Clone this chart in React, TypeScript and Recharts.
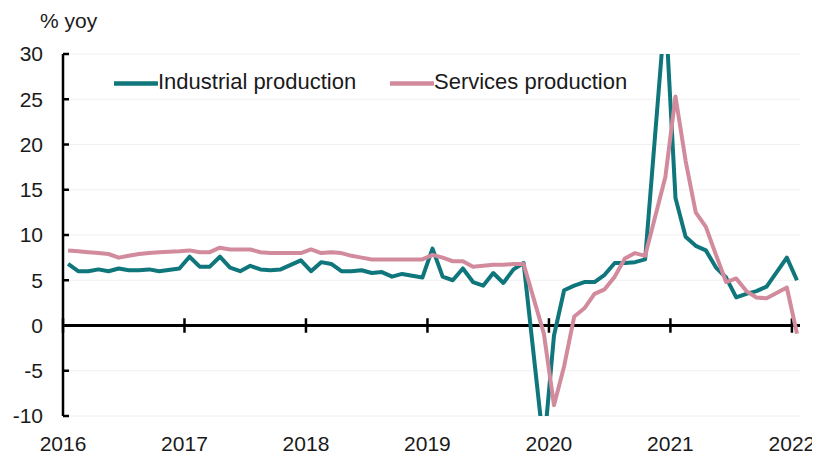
import React from 'react';
import { LineChart, Line, XAxis, YAxis, CartesianGrid, ReferenceLine } from 'recharts';

// Monthly data, first point = March 2016 (month index 2, Jan 2016 = 0); Jan values null (Jan-Feb combined)
const FIRST_MONTH_INDEX = 2;

const INDUSTRIAL: (number | null)[] = [
  // 2016 Mar-Dec
  6.8, 6.0, 6.0, 6.2, 6.0, 6.3, 6.1, 6.1, 6.2, 6.0,
  // 2017
  null, 6.3, 7.6, 6.5, 6.5, 7.6, 6.4, 6.0, 6.6, 6.2, 6.1, 6.2,
  // 2018
  null, 7.2, 6.0, 7.0, 6.8, 6.0, 6.0, 6.1, 5.8, 5.9, 5.4, 5.7,
  // 2019
  null, 5.3, 8.5, 5.4, 5.0, 6.3, 4.8, 4.4, 5.8, 4.7, 6.2, 6.9,
  // 2020
  null, -13.5, -1.1, 3.9, 4.4, 4.8, 4.8, 5.6, 6.9, 6.9, 7.0, 7.3,
  // 2021
  null, 35.1, 14.1, 9.8, 8.8, 8.3, 6.4, 5.3, 3.1, 3.5, 3.8, 4.3,
  // 2022
  null, 7.5, 5.0,
];

const SERVICES: (number | null)[] = [
  // 2016 Mar-Dec
  8.3, 8.2, 8.1, 8.0, 7.9, 7.5, 7.7, 7.9, 8.0, 8.1,
  // 2017
  null, 8.2, 8.3, 8.1, 8.1, 8.6, 8.4, 8.4, 8.4, 8.1, 8.0, 8.0,
  // 2018
  null, 8.0, 8.4, 8.0, 8.1, 8.0, 7.7, 7.5, 7.3, 7.3, 7.3, 7.3,
  // 2019
  null, 7.3, 7.8, 7.5, 7.1, 7.1, 6.5, 6.6, 6.7, 6.7, 6.8, 6.8,
  // 2020
  null, -0.9, -8.8, -4.5, 1.0, 1.9, 3.5, 4.0, 5.4, 7.4, 8.0, 7.7,
  // 2021
  null, 16.4, 25.3, 18.2, 12.5, 10.9, 7.8, 4.8, 5.2, 3.8, 3.1, 3.0,
  // 2022
  null, 4.2, -0.9,
];

const YEAR_LABELS = ['2016', '2017', '2018', '2019', '2020', '2021', '2022'];
const YEAR_TICK_POS = [1.5, 13.5, 25.5, 37.5, 49.5, 61.5, 73.5];
const Y_TICKS = [-10, -5, 0, 5, 10, 15, 20, 25, 30];
const SERIES_NAMES = ['Industrial production', 'Services production'];

const TEAL = '#0F767C';
const PINK = '#D28A9D';
const FONT = '"Liberation Sans", Arial, sans-serif';

const data = INDUSTRIAL.map((v, i) => ({
  m: FIRST_MONTH_INDEX + i,
  ip: v,
  sv: SERVICES[i],
}));

const LegendItem = ({ color, label, left }: { color: string; label: string; left: number }) => (
  <div
    style={{
      position: 'absolute',
      left,
      top: 63,
      display: 'flex',
      alignItems: 'center',
      fontSize: 22,
      lineHeight: '22px',
      color: '#1a1a1a',
      whiteSpace: 'nowrap',
    }}
  >
    <svg width={44} height={22} style={{ display: 'block' }}>
      <line x1={0} y1={12.5} x2={43} y2={12.5} stroke={color} strokeWidth={4.5} strokeLinecap="round" />
    </svg>
    <span>{label}</span>
  </div>
);

export default function App() {
  return (
    <div style={{ position: 'relative', width: 812, height: 450, fontFamily: FONT }}>
      <LineChart
        width={812}
        height={450}
        data={data}
        margin={{ top: 46, right: 20, bottom: 2, left: 0 }}
      >
        <CartesianGrid vertical={false} stroke="#f0f0f0" strokeWidth={1} />
        <XAxis
          type="number"
          dataKey="m"
          domain={[1.5, 74.3]}
          ticks={YEAR_TICK_POS}
          interval={0}
          allowDataOverflow
          tickFormatter={(v: number) => YEAR_LABELS[YEAR_TICK_POS.indexOf(v)] ?? ''}
          axisLine={false}
          tickLine={false}
          tickSize={0}
          tickMargin={20}
          height={40}
          tick={{ fontSize: 21, fill: '#1a1a1a', fontFamily: FONT }}
        />
        <YAxis
          type="number"
          domain={[-10, 30]}
          ticks={Y_TICKS}
          interval={0}
          allowDataOverflow
          width={55}
          axisLine={{ stroke: '#000', strokeWidth: 2.5 }}
          tickLine={{ stroke: '#000', strokeWidth: 2.5 }}
          tickSize={-6}
          tickMargin={26}
          tick={{ fontSize: 21, fill: '#1a1a1a', fontFamily: FONT }}
        />
        <ReferenceLine y={0} stroke="#000" strokeWidth={3} />
        {YEAR_TICK_POS.map((t) => (
          <ReferenceLine
            key={t}
            segment={[{ x: t, y: -0.8 }, { x: t, y: 0.8 }]}
            stroke="#000"
            strokeWidth={2.5}
          />
        ))}
        <Line
          type="linear"
          dataKey="ip"
          name={SERIES_NAMES[0]}
          stroke={TEAL}
          strokeWidth={4}
          dot={false}
          connectNulls
          strokeLinejoin="round"
          isAnimationActive={false}
        />
        <Line
          type="linear"
          dataKey="sv"
          name={SERIES_NAMES[1]}
          stroke={PINK}
          strokeWidth={4}
          dot={false}
          connectNulls
          strokeLinejoin="round"
          isAnimationActive={false}
        />
      </LineChart>
      <div
        style={{
          position: 'absolute',
          left: 32,
          top: 2,
          fontSize: 21,
          lineHeight: '21px',
          color: '#1a1a1a',
          whiteSpace: 'nowrap',
        }}
      >
        % yoy
      </div>
      <LegendItem color={TEAL} label={SERIES_NAMES[0]} left={106} />
      <LegendItem color={PINK} label={SERIES_NAMES[1]} left={382} />
    </div>
  );
}
